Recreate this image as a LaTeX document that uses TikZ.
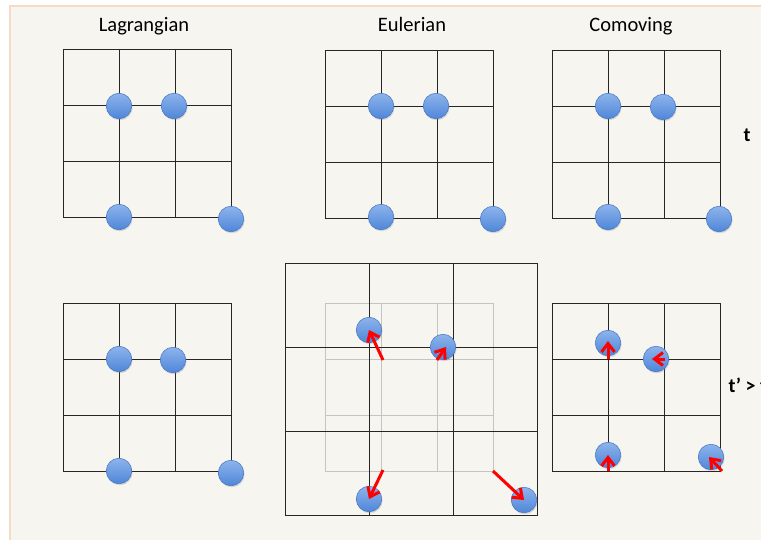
\documentclass[tikz,border=0pt]{standalone}
\usepackage{fontspec}
\setmainfont{Carlito}
\usetikzlibrary{arrows.meta,shadows}

\definecolor{paper}{HTML}{F7F5F0}
\definecolor{paperedge}{HTML}{F6DCC8}
\definecolor{balltop}{HTML}{8DB4EC}
\definecolor{ballbot}{HTML}{4F86D9}
\definecolor{ballrim}{HTML}{4C7CC4}
\definecolor{oldgrid}{HTML}{C4C4C4}

\begin{document}
\begin{tikzpicture}[x=1pt, y=-1pt,
    gridline/.style={draw=black!85, line width=1pt},
    oldline/.style={draw=oldgrid, line width=1pt},
    dot/.style={circle, minimum size=25.5pt, inner sep=0pt, top color=balltop, bottom color=ballbot, draw=ballrim, line width=0.6pt, drop shadow={opacity=0.25, shadow xshift=0.8pt, shadow yshift=-1.5pt}},
    move/.style={-{Straight Barb[length=8.5pt, width=13pt]}, draw=red, line width=3pt},
    title/.style={font=\fontsize{20.5}{24}\selectfont, anchor=base},
    timelabel/.style={font=\fontsize{20}{24}\selectfont\bfseries, anchor=base}
]

% Background panel
\useasboundingbox (0,0) rectangle (761,539);
\fill[white] (0,0) rectangle (761,539);
\draw[fill=paper, draw=paperedge, line width=1.5pt] (10,6) rectangle (780,560);

% Titles
\node[title] (lagr) at (144,31.5) {Lagrangian};
\node[title] (euler) at (412,31.5) {Eulerian};
\node[title] (comov) at (631,31.5) {Comoving};
\node[timelabel] (tnow) at (747,141.5) {t};
\node[timelabel, anchor=base west] (tlater) at (725,392) {t’ > t};

% Old Eulerian grid at t'
\foreach \i in {0,...,2}
  \foreach \j in {0,...,2}
    \draw[oldline] ({325+\i*56},{303+\j*56}) rectangle ++(56,56);

% Grids
\foreach \gx/\gy/\c in {63/49/56, 325/50/56, 552/50/56, 63/303/56, 552/303/56, 285/263/84}
  \foreach \i in {0,...,2}
    \foreach \j in {0,...,2}
      \draw[gridline] ({\gx+\i*\c},{\gy+\j*\c}) rectangle ++(\c,\c);

% Particles at t
\node[dot] (la1) at (119,106) {};
\node[dot] (la2) at (174,106) {};
\node[dot] (la3) at (119,217) {};
\node[dot] (la4) at (231,219) {};
\node[dot] (eu1) at (381,106) {};
\node[dot] (eu2) at (436,106) {};
\node[dot] (eu3) at (381,217) {};
\node[dot] (eu4) at (493,219) {};
\node[dot] (co1) at (608,106) {};
\node[dot] (co2) at (663,107) {};
\node[dot] (co3) at (608,217) {};
\node[dot] (co4) at (719,219) {};

% Particles at t'
\node[dot] (lb1) at (119,359) {};
\node[dot] (lb2) at (173,360) {};
\node[dot] (lb3) at (119,471) {};
\node[dot] (lb4) at (231,473) {};
\node[dot] (ev1) at (369,330) {};
\node[dot] (ev2) at (443,347) {};
\node[dot] (ev3) at (369,499) {};
\node[dot] (ev4) at (524,500) {};
\node[dot] (cm1) at (608,343) {};
\node[dot] (cm2) at (656,359) {};
\node[dot] (cm3) at (608,455) {};
\node[dot] (cm4) at (711,457) {};

% Start points of the moves
\coordinate (es1) at (383,360);
\coordinate (es2) at (437,360);
\coordinate (es3) at (383,470);
\coordinate (es4) at (493,471);
\coordinate (cs1) at (608,359);
\coordinate (cs2) at (665,359);
\coordinate (cs3) at (608,471);
\coordinate (cs4) at (722,471);

% Moves
\draw[move] (es1) -- (ev1.center);
\draw[move] (es2) -- ([shift={(3,0)}]ev2.center);
\draw[move] (es3) -- (ev3.center);
\draw[move] (es4) -- (ev4.center);
\draw[move] (cs1) -- ([shift={(0,-2)}]cm1.center);
\draw[move] (cs2) -- ([shift={(-4,0)}]cm2.center);
\draw[move] (cs3) -- (cm3.center);
\draw[move] (cs4) -- ([shift={(-2,0)}]cm4.center);

\end{tikzpicture}
\end{document}
